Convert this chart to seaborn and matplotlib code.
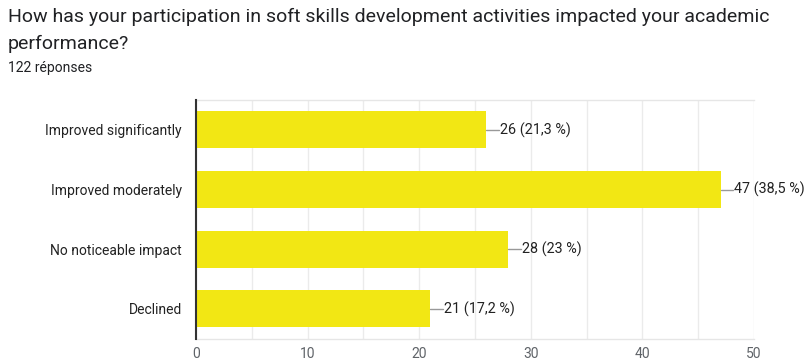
import matplotlib
matplotlib.use("Agg")
import matplotlib.pyplot as plt
import seaborn as sns
import pandas as pd

categories = ["Improved significantly", "Improved moderately", "No noticeable impact", "Declined"]
counts = [26, 47, 28, 21]
pct_labels = ["21,3 %", "38,5 %", "23 %", "17,2 %"]
x_ticks = [0, 10, 20, 30, 40, 50]

title = "How has your participation in soft skills development activities impacted your academic\nperformance?"
subtitle = "122 réponses"

sns.set_style("white")
plt.rcParams['font.family'] = ['Roboto', 'DejaVu Sans']

df = pd.DataFrame({"cat": categories, "n": counts})

fig = plt.figure(figsize=(8.06, 3.64), dpi=100)
ax = fig.add_axes([196/806, 1-338.7/364, (754-196)/806, (338.7-100)/364])

sns.barplot(data=df, x="n", y="cat", color="#F2E714", saturation=1, width=0.62, ax=ax, orient="h")
for p in ax.patches:
    p.set_edgecolor("none")

ax.set_xlim(0, 50)
ax.set_ylim(3.5, -0.5)
ax.set_xticks(x_ticks)
ax.set_xticks(range(0, 51, 5), minor=True)
ax.grid(True, axis="x", which="both", color="#ebebeb", linewidth=1)
ax.set_axisbelow(True)
ax.set_xlabel("")
ax.set_ylabel("")

for s in ["top", "bottom"]:
    ax.spines[s].set_visible(True)
    ax.spines[s].set_color("#e6e6e6")
    ax.spines[s].set_linewidth(1)
ax.spines["right"].set_visible(False)
ax.spines["left"].set_color("#333333")
ax.spines["left"].set_linewidth(1.5)
ax.spines["left"].set_zorder(5)

ax.tick_params(axis="x", which="both", length=0, pad=6, labelsize=10, labelcolor="#5f6368")
ax.tick_params(axis="y", length=0, pad=10, labelsize=10, labelcolor="#222222")

for i, (v, lab) in enumerate(zip(counts, pct_labels)):
    ax.plot([v, v + 1.15], [i, i], color="#999999", linewidth=1, clip_on=False, zorder=4)
    ax.text(v + 1.2, i, f"{v} ({lab})", ha="left", va="center", fontsize=10.4, color="#222222")

fig.text(8/806, 1-8/364, title, ha="left", va="top", fontsize=14, color="#202124",
         linespacing=1.6)
fig.text(8/806, 1-72/364, subtitle, ha="left", va="baseline", fontsize=10, color="#202124")

fig.savefig("out.png", dpi=100)
